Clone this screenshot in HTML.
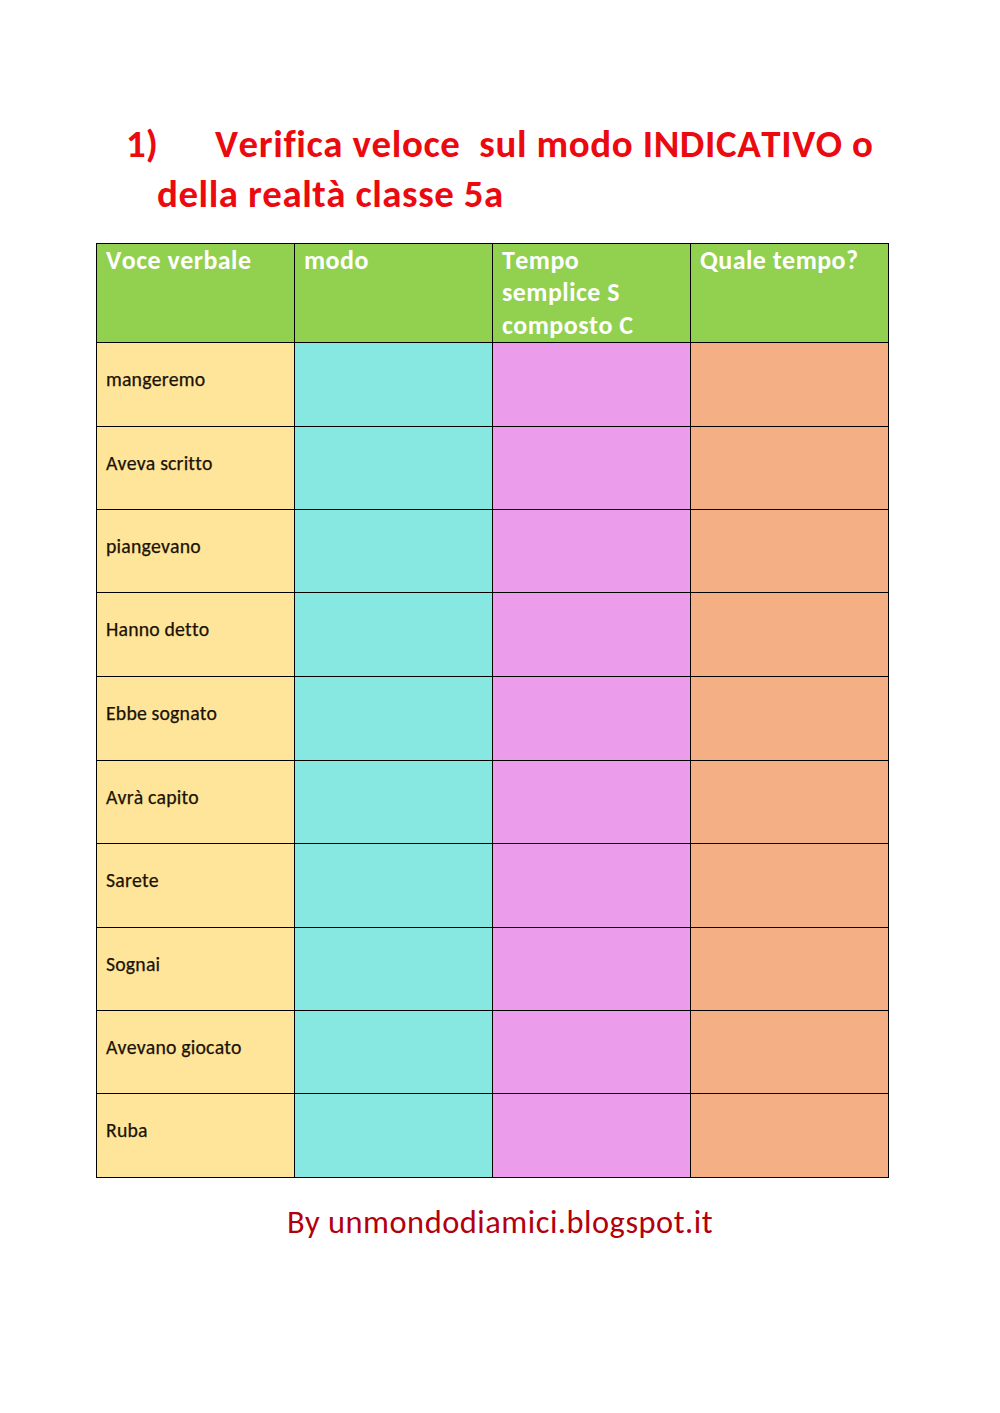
<!DOCTYPE html>
<html lang="it">
<head>
<meta charset="utf-8">
<title>Verifica veloce sul modo INDICATIVO</title>
<style>
  html, body { margin: 0; padding: 0; background: #fff; }
  body { width: 1000px; height: 1413px; position: relative; overflow: hidden;
         font-family: Carlito, "Liberation Sans", sans-serif; font-kerning: none; font-variant-ligatures: none; }
  .title { position: absolute; left: 0; top: 0; width: 1000px; color: #ea0a10; font-weight: bold;
           font-size: 38.9px; line-height: 49.2px; white-space: pre; }
  .title .l1 { position: absolute; top: 118.5px; left: 126px; }
  .title .l1 .txt { position: absolute; left: 89px; top: 0; letter-spacing: 0.61px; }
  .title .l2 { position: absolute; top: 168.5px; left: 157px; letter-spacing: 0.556px; }
  table { position: absolute; left: 96px; top: 243px; border-collapse: collapse; table-layout: fixed;
          width: 793px; }
  td { border: 1px solid #000; padding: 0; vertical-align: top; box-sizing: border-box; }
  col { width: 198px; }
  tr.h td { height: 99px; background: #92d050; color: #fff; font-weight: bold; font-size: 25.96px; letter-spacing: 0.465px;
            line-height: 32.6px; padding: 0 0 0 9px; }
  tr.r td { height: 84px; }
  tr.r.s td { height: 83px; }
  tr.h td div { position: relative; top: -0.3px; }
  tr.r td.a { background: #ffe599; font-size: 19.76px; letter-spacing: 0.185px; line-height: 24px; padding: 23.85px 0 0 9px; color: #1a1206; -webkit-text-stroke: 0.25px #1a1206; }
  tr.r td.b { background: #87e8e2; }
  tr.r td.c { background: #eb9deb; }
  tr.r td.d { background: #f4b084; }
  .foot { position: absolute; left: 0; top: 1202.4px; width: 1000px; text-align: center; color: #b3000d;
          font-size: 32.42px; letter-spacing: 0.513px; line-height: 40px; }
</style>
</head>
<body>
<div class="title">
  <div class="l1">1)<span class="txt">Verifica veloce  sul modo INDICATIVO o</span></div>
  <div class="l2">della realtà classe 5a</div>
</div>
<table>
  <colgroup><col><col><col><col></colgroup>
  <tr class="h"><td><div>Voce verbale</div></td><td><div>modo</div></td><td><div>Tempo<br>semplice S<br>composto C</div></td><td><div>Quale tempo?</div></td></tr>
  <tr class="r"><td class="a">mangeremo</td><td class="b"></td><td class="c"></td><td class="d"></td></tr>
  <tr class="r s"><td class="a">Aveva scritto</td><td class="b"></td><td class="c"></td><td class="d"></td></tr>
  <tr class="r s"><td class="a">piangevano</td><td class="b"></td><td class="c"></td><td class="d"></td></tr>
  <tr class="r"><td class="a">Hanno detto</td><td class="b"></td><td class="c"></td><td class="d"></td></tr>
  <tr class="r"><td class="a">Ebbe sognato</td><td class="b"></td><td class="c"></td><td class="d"></td></tr>
  <tr class="r s"><td class="a">Avrà capito</td><td class="b"></td><td class="c"></td><td class="d"></td></tr>
  <tr class="r"><td class="a">Sarete</td><td class="b"></td><td class="c"></td><td class="d"></td></tr>
  <tr class="r s"><td class="a">Sognai</td><td class="b"></td><td class="c"></td><td class="d"></td></tr>
  <tr class="r s"><td class="a">Avevano giocato</td><td class="b"></td><td class="c"></td><td class="d"></td></tr>
  <tr class="r"><td class="a">Ruba</td><td class="b"></td><td class="c"></td><td class="d"></td></tr>
</table>
<div class="foot">By unmondodiamici.blogspot.it</div>
</body>
</html>
